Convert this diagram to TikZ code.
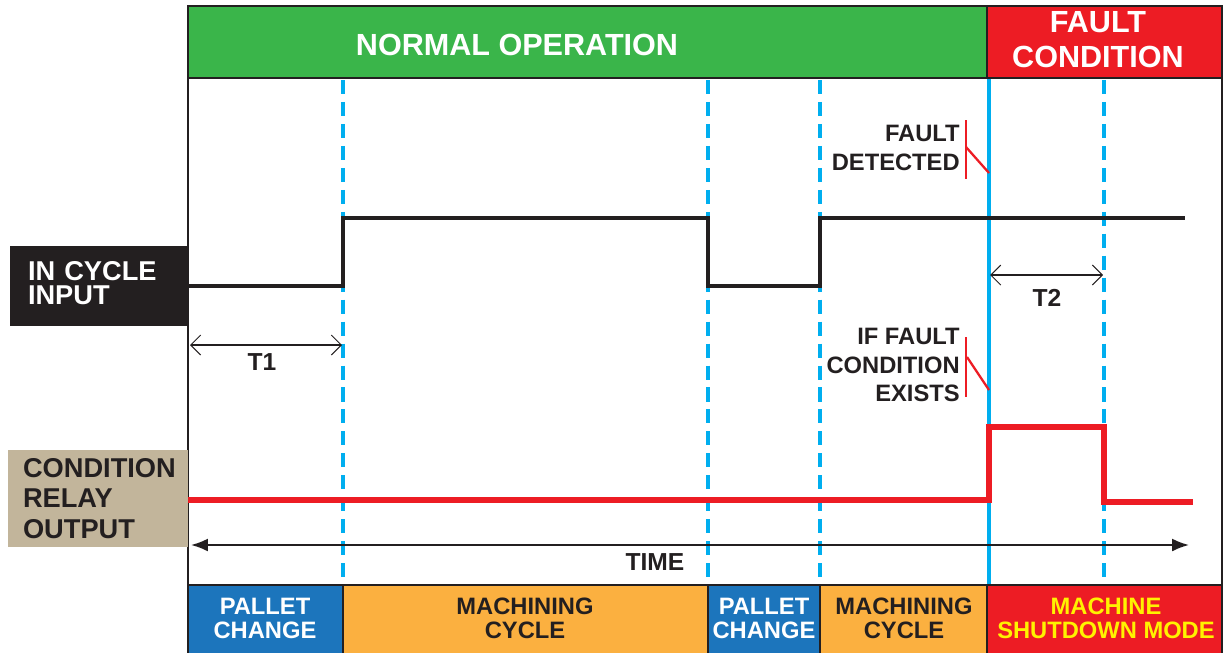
\documentclass[tikz,border=0pt]{standalone}
\usepackage{fontspec}
\setmainfont{Liberation Sans}
\usetikzlibrary{arrows.meta}
\definecolor{CycGreen}{HTML}{3AB54A}
\definecolor{CycRed}{HTML}{ED1C24}
\definecolor{CycSky}{HTML}{00AEEF}
\definecolor{CycBlue}{HTML}{1C75BC}
\definecolor{CycOrange}{HTML}{FBB040}
\definecolor{CycTan}{HTML}{C2B59B}
\definecolor{CycYellow}{HTML}{FFF200}
\definecolor{CycInk}{HTML}{231F20}
\tikzset{
  edgeline/.style={draw=CycInk,line width=1.3pt},
  headtext/.style={text=white,font=\fontsize{17.4}{20}\selectfont\bfseries,align=center,inner sep=0pt},
  sidebox/.style={inner ysep=0pt,align=left,font=\fontsize{15.5}{14}\selectfont\bfseries},
  phasetext/.style={font=\fontsize{13.5}{13.6}\selectfont\bfseries,align=center,inner sep=0pt},
  cuetext/.style={text=CycInk,font=\fontsize{13.5}{16}\selectfont\bfseries,align=right,inner sep=0pt},
  cue/.style={draw=CycSky,line width=2.3pt,dash pattern=on 8pt off 4.5pt},
  insignal/.style={draw=CycInk,line width=2.8pt},
  outsignal/.style={draw=CycRed,line width=3.4pt},
  span/.style={{Straight Barb[length=2mm]}-{Straight Barb[length=2mm]},draw=CycInk,line width=0.6pt},
  timeaxis/.style={{Latex[length=3.4mm,width=2.6mm]}-{Latex[length=3.4mm,width=2.6mm]},draw=CycInk,line width=1.1pt},
  faultmark/.style={draw=CycRed,line width=1.3pt}
}

\begin{document}
\begin{tikzpicture}[x=0.02cm,y=-0.02cm]
  \useasboundingbox (0,0) rectangle (1225,653);
  % phase bands
  \fill[CycGreen] (188,6) rectangle (987,78);
  \fill[CycRed] (987,6) rectangle (1222,78);
  \fill[CycBlue] (188,585) rectangle (343,653);
  \fill[CycOrange] (343,585) rectangle (708,653);
  \fill[CycBlue] (708,585) rectangle (820,653);
  \fill[CycOrange] (820,585) rectangle (987,653);
  \fill[CycRed] (987,585) rectangle (1222,653);
  % frame
  \draw[edgeline] (188,653) -- (188,6) -- (1222,6) -- (1222,653);
  \draw[edgeline] (188,78) -- (1222,78);
  \draw[edgeline] (987,6) -- (987,78);
  \draw[edgeline] (188,585) -- (1222,585);
  \foreach \x in {343,708,820,987}
    \draw[edgeline] (\x,585) -- (\x,653);
  % time marks
  \foreach \x in {343,708,820,1104}
    \draw[cue] (\x,80) -- (\x,583);
  \draw[draw=CycSky,line width=1.8pt] (989,79) -- (989,584);
  % signals
  \draw[insignal] (188,286) -- (343,286) -- (343,218) -- (708,218) -- (708,286)
    -- (820,286) -- (820,218) -- (1185,218);
  \draw[outsignal] (188,500) -- (989,500) -- (989,427) -- (1104,427) -- (1104,502) -- (1193,502);
  % labels
  \node[headtext] (normal) at (517,45) {NORMAL OPERATION};
  \node[headtext] (fault) at (1098,40) {FAULT\\CONDITION};
  \node[sidebox,fill=CycInk,text=white,minimum width=3.56cm,minimum height=1.6cm,text width=2.84cm] (incycle) at (99,286) {IN CYCLE\\INPUT\vphantom{p}};
  \node[sidebox,fill=CycTan,text=CycInk,minimum width=3.6cm,minimum height=1.94cm,text width=3.0cm,font=\fontsize{15.5}{17.5}\selectfont\bfseries] (relay) at (98,498.5) {CONDITION\\RELAY\\OUTPUT};
  \node[cuetext,anchor=east] (detected) at (960,148) {FAULT\\DETECTED};
  \node[cuetext,anchor=east] (exists) at (960,365) {IF FAULT\\CONDITION\\EXISTS};
  \draw[faultmark] (966,120) -- (966,179);
  \draw[faultmark] (966,147) -- (989,173);
  \draw[faultmark] (966,337) -- (966,397);
  \draw[faultmark] (967,357) -- (989,390);
  % spans
  \coordinate (t1a) at (190,345);
  \coordinate (t1b) at (342,345);
  \coordinate (t2a) at (990,275);
  \coordinate (t2b) at (1103,275);
  \coordinate (ta) at (191,545);
  \coordinate (tb) at (1189,545);
  \draw[span] (t1a) -- (t1b);
  \draw[span] (t2a) -- (t2b);
  \draw[timeaxis] (ta) -- (tb);
  \node[cuetext,font=\fontsize{14}{16}\selectfont\bfseries] (t1) at (262,362) {T1};
  \node[cuetext,font=\fontsize{14}{16}\selectfont\bfseries] (t2) at (1047,298) {T2};
  \node[cuetext,font=\fontsize{14}{16}\selectfont\bfseries] (time) at (655,562) {TIME};
  % phases
  \node[phasetext,text=white] (pal1) at (265,618.5) {PALLET\\CHANGE};
  \node[phasetext,text=CycInk] (mach1) at (525,618.5) {MACHINING\\CYCLE};
  \node[phasetext,text=white] (pal2) at (764,618.5) {PALLET\\CHANGE};
  \node[phasetext,text=CycInk] (mach2) at (904,618.5) {MACHINING\\CYCLE};
  \node[phasetext,text=CycYellow] (shutdown) at (1106,618.5) {MACHINE\\SHUTDOWN MODE};
\end{tikzpicture}
\end{document}
